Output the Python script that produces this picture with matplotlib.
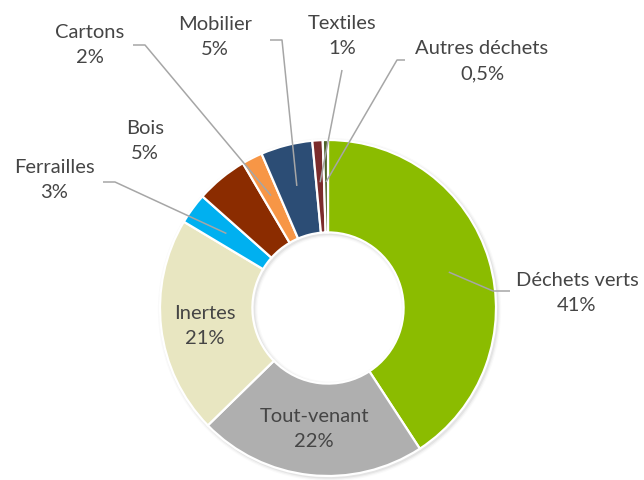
import matplotlib
matplotlib.use("Agg")
import matplotlib.pyplot as plt
import numpy as np

categories = ["Déchets verts", "Tout-venant", "Inertes", "Ferrailles", "Bois",
              "Cartons", "Mobilier", "Textiles", "Autres déchets"]
values = [41, 22, 21, 3, 5, 2, 5, 1, 0.5]
pct_labels = ["41%", "22%", "21%", "3%", "5%", "2%", "5%", "1%", "0,5%"]
colors = ["#8BBC00", "#AFAFAF", "#E8E6C1", "#00B0F0", "#8B2C00",
          "#F79646", "#2C4D75", "#7B2C2C", "#4F6228"]

W, H = 644, 480
CX, CY, R = 328, 308, 168


def px(x, y):
    return ((x - CX) / R, (CY - y) / R)


fig = plt.figure(figsize=(W / 100, H / 100), dpi=100)
ax = fig.add_axes([0, 0, 1, 1])

plt.rcParams["font.family"] = ["Lato", "DejaVu Sans"]
TXT = "#454545"
LINE = "#A6A6A6"
FS = 14.5
LS = 1.6

# soft shadow
for i, a in enumerate([0.10, 0.07, 0.04]):
    d = (i + 1) * 1.2 / R
    ax.pie([1], colors=["#808080"], radius=1 + d, center=(1.5 / R, -1.5 / R),
           wedgeprops=dict(width=0.55 + 2 * d, edgecolor="none", alpha=a))

wedges, _ = ax.pie(values, colors=colors, startangle=90, counterclock=False,
                   radius=1, wedgeprops=dict(width=0.55, edgecolor="white", linewidth=1.6))

ax.set_xlim(px(0, 0)[0], px(W, 0)[0])
ax.set_ylim(px(0, H)[1], px(0, 0)[1])
ax.set_aspect("equal")
ax.axis("off")

# inner labels
inside = {1: (314, 429), 2: (205, 326)}
# outer labels: text center, leader polyline points (label side first)
outside = {
    0: ((577, 293), [(510, 291), (493, 291)]),
    3: ((54, 180), [(103, 182), (115, 182)]),
    4: ((145, 141), None),
    5: ((90, 45), [(133, 45), (145, 45)]),
    6: ((215, 37), [(270, 40), (282, 40)]),
    7: ((342, 36), [(342, 70)]),
    8: ((482, 61), [(405, 60), (397, 60)]),
}

for i, w in enumerate(wedges):
    txt = f"{categories[i]}\n{pct_labels[i]}"
    if i in inside:
        x, y = px(*inside[i])
        ax.text(x, y, txt, ha="center", va="center", fontsize=FS, color=TXT,
                linespacing=LS)
        continue
    (tx, ty), pts = outside[i]
    x, y = px(tx, ty)
    ax.text(x, y, txt, ha="center", va="center", fontsize=FS, color=TXT,
            linespacing=LS)
    if pts:
        mid = np.deg2rad((w.theta1 + w.theta2) / 2)
        ar = 0.75
        xs = [px(*p)[0] for p in pts] + [ar * np.cos(mid)]
        ys = [px(*p)[1] for p in pts] + [ar * np.sin(mid)]
        ax.plot(xs, ys, color=LINE, lw=1.1, solid_capstyle="butt")

fig.savefig("out.png", dpi=100, facecolor="white")
